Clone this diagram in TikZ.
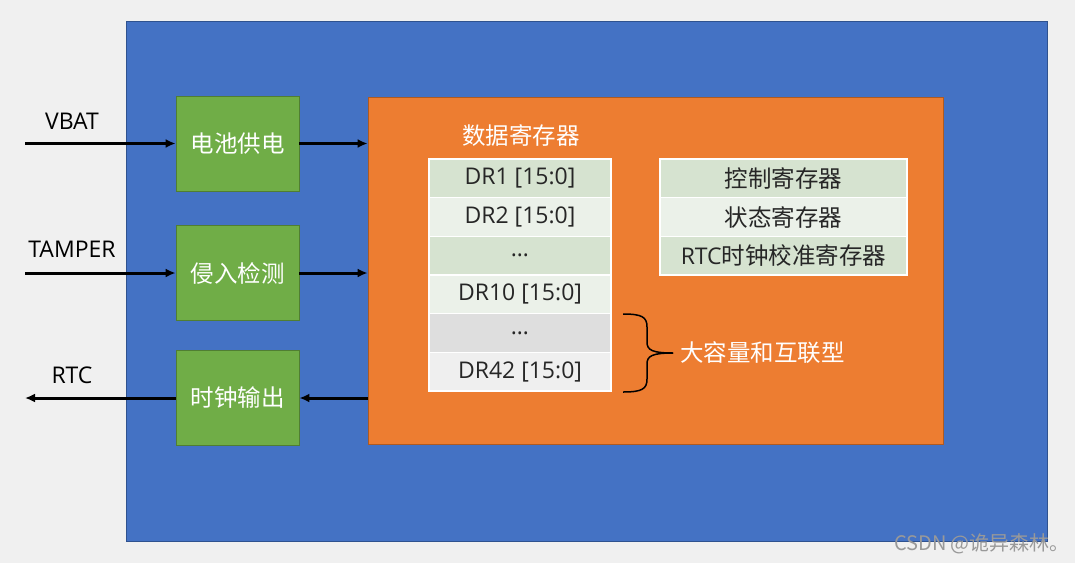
\documentclass[tikz,border=0pt]{standalone}
\usepackage{fontspec}
\setmainfont{Open Sans}
\newfontfamily\cjk{Noto Sans CJK SC}
\usetikzlibrary{arrows.meta}
\definecolor{bgc}{HTML}{F0F0F0}
\definecolor{chipblue}{HTML}{4472C4}
\definecolor{chipedge}{HTML}{2F528F}
\definecolor{orangec}{HTML}{ED7D31}
\definecolor{orangeedge}{HTML}{AE5A21}
\definecolor{greenc}{HTML}{70AD47}
\definecolor{greenedge}{HTML}{507E32}
\definecolor{rowa}{HTML}{D6E3D0}
\definecolor{rowb}{HTML}{EBF1E9}
\definecolor{rowc}{HTML}{DEDEDE}
\definecolor{rowd}{HTML}{EFEFEF}
\definecolor{txt}{HTML}{262626}
\newcommand\cjktext[1]{{\cjk\fontsize{23.5}{27}\selectfont #1}}
\tikzset{
  latin/.style={font=\fontsize{23}{27}\selectfont},
  greenbox/.style={draw=greenedge, line width=0.8pt, fill=greenc, minimum width=123, minimum height=95, inner sep=0, text=white},
  cell/.style={draw=white, line width=1.5pt, minimum width=182, minimum height=38.67, inner sep=0, text=txt, latin},
  rcell/.style={draw=white, line width=1.5pt, minimum width=247, minimum height=38.67, inner sep=0, text=txt, latin},
  sig/.style={line width=3pt, -{Latex[length=10pt,width=9pt]}},
  brace/.style={line width=1.5pt, black},
  lbl/.style={latin, text=black, inner sep=0}
}
\begin{document}
\begin{tikzpicture}[x=1pt,y=-1pt]
\useasboundingbox (0,0) rectangle (1075,563);
\fill[bgc] (0,0) rectangle (1075,563);

\node[draw=chipedge, line width=0.8pt, fill=chipblue, minimum width=921, minimum height=520, inner sep=0] (chip) at (586.5,281) {};
\node[draw=orangeedge, line width=0.8pt, fill=orangec, minimum width=575, minimum height=347, inner sep=0] (core) at (655.5,270.5) {};

\node[greenbox] (bat) at (237.5,143.5) {\cjktext{电池供电}};
\node[greenbox] (tam) at (237.5,273) {\cjktext{侵入检测}};
\node[greenbox] (clk) at (237.5,398) {\cjktext{时钟输出}};

\coordinate (vbatin) at (25,143.5);
\coordinate (tamin) at (25,273);
\coordinate (rtcout) at (25,398);

\node[lbl] (vbatl) at (72,121) {VBAT};
\node[lbl] (taml) at (72,249) {TAMPER};
\node[lbl] (rtcl) at (72,375) {RTC};

\draw[sig] (vbatin) -- (bat.west);
\draw[sig] (tamin) -- (tam.west);
\draw[sig] (clk.west) -- (rtcout);
\draw[sig] (bat.east) -- (bat.east -| core.west);
\draw[sig] (tam.east) -- (tam.east -| core.west);
\draw[sig] (clk.east -| core.west) -- (clk.east);

\node[text=white, inner sep=0] (dtitle) at (521,136) {\cjktext{数据寄存器}};

\node[cell, fill=rowa] (d1) at (520,178.33) {DR1 [15:0]};
\node[cell, fill=rowb] (d2) at (520,217) {DR2 [15:0]};
\node[cell, fill=rowa] (d3) at (520,255.67) {…};
\node[cell, fill=rowb] (d4) at (520,294.33) {DR10 [15:0]};
\node[cell, fill=rowc] (d5) at (520,333) {…};
\node[cell, fill=rowd] (d6) at (520,371.67) {DR42 [15:0]};

\node[rcell, fill=rowa] (c1) at (783.5,178.33) {\cjktext{控制寄存器}};
\node[rcell, fill=rowb] (c2) at (783.5,217) {\cjktext{状态寄存器}};
\node[rcell, fill=rowa] (c3) at (783.5,255.67) {RTC\cjktext{时钟校准寄存器}};

\coordinate (btop) at (623,314);
\coordinate (bbot) at (623,392);
\coordinate (btip) at (673,353);
\draw[brace] (btop) .. controls (642,314) and (647,317) .. (647,327) -- (647,342)
  .. controls (647,350) and (652,353) .. (btip);
\draw[brace] (btip) .. controls (652,353) and (647,356) .. (647,364) -- (647,379)
  .. controls (647,389) and (642,392) .. (bbot);

\node[anchor=west, text=white, inner sep=0] (big) at (680,353) {\cjktext{大容量和互联型}};

\node[text=black!40, inner sep=0, font=\cjk\fontsize{20}{24}\selectfont] (wm) at (982,544) {CSDN @诡异森林。};
\end{tikzpicture}
\end{document}
